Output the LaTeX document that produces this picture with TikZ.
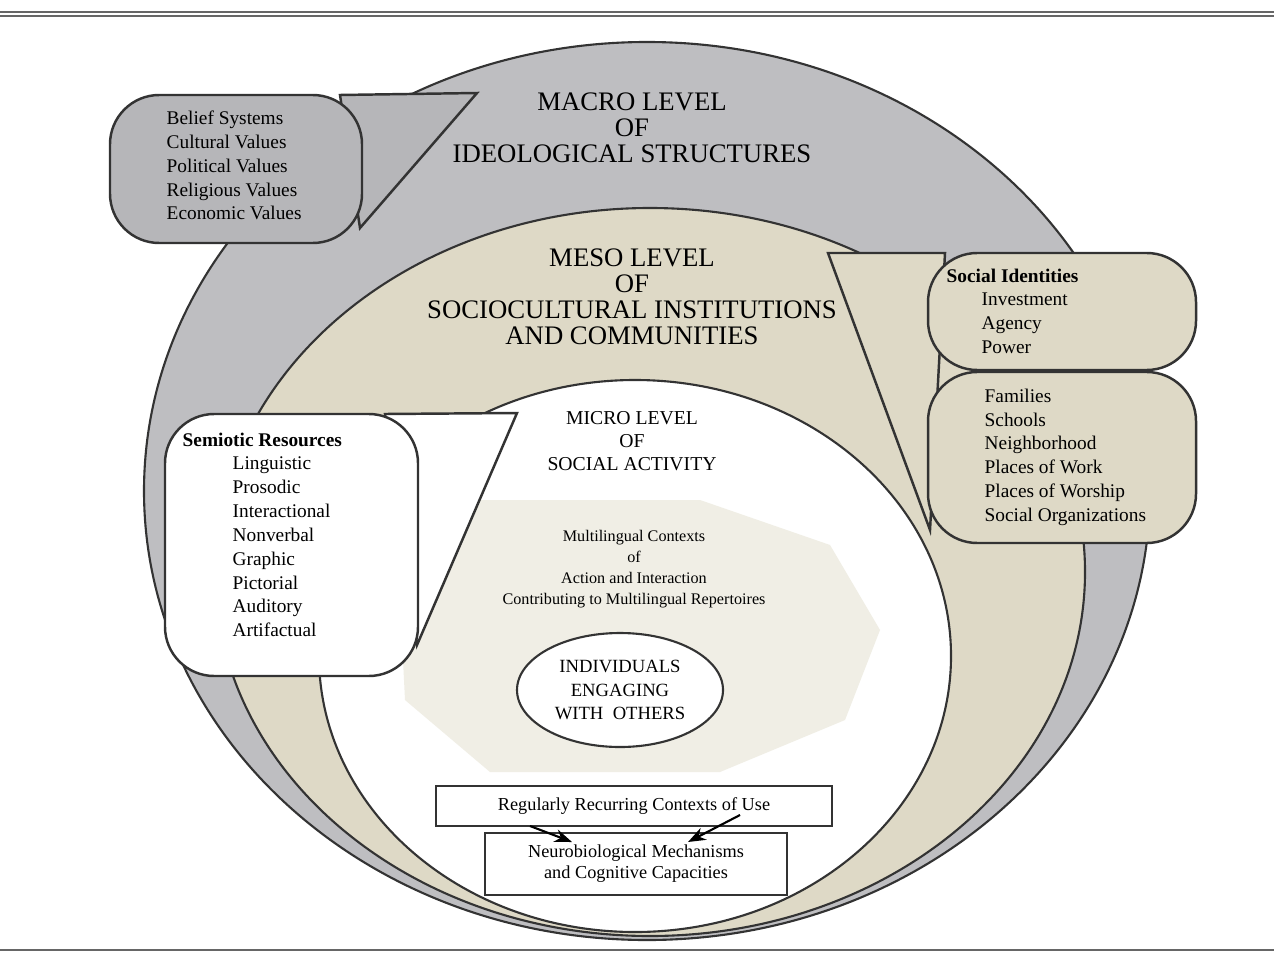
\documentclass[tikz,border=0pt]{standalone}
\usepackage{fontspec}
\setmainfont{Liberation Serif}
\usetikzlibrary{arrows.meta}
\definecolor{macrogray}{RGB}{190,190,193}
\definecolor{boxgray}{RGB}{182,182,185}
\definecolor{mesobeige}{RGB}{222,217,198}
\definecolor{ctxbeige}{RGB}{240,238,229}
\tikzset{
  lvl/.style={draw=black!80, line width=.6pt},
  callout/.style={draw=black!80, line width=.7pt, rounded corners=14pt},
  ptr/.style={draw=black!80, line width=.7pt},
  title/.style={align=center, font=\fontsize{7.6}{7.4}\selectfont},
  list/.style={align=left, font=\fontsize{5.5}{6.8}\selectfont, anchor=north west, inner sep=0pt},
  plain/.style={draw=black!80, line width=.6pt, align=center, font=\fontsize{5.2}{6}\selectfont}
}
\begin{document}
\begin{tikzpicture}[x=0.01cm, y=-0.01cm]
\useasboundingbox (0,0) rectangle (1274,961);
% rules
\draw[black!60, line width=.8pt] (0,12) -- (1274,12);
\draw[black!60, line width=.8pt] (0,16) -- (1274,16);
\draw[black!60, line width=.8pt] (0,950) -- (1274,950);
% levels
\draw[lvl, fill=macrogray] (647,491) ellipse [x radius=503, y radius=449];
\draw[lvl, fill=mesobeige] (650,572) ellipse [x radius=435, y radius=364];
\draw[lvl, fill=white] (635,656) ellipse [x radius=316, y radius=276];
\fill[ctxbeige] (480,500) -- (700,500) -- (830,545) -- (880,630) -- (845,720)
  -- (720,772) -- (490,772) -- (405,700) -- (400,600) -- cycle;
\node[title] (macro) at (632,128) {MACRO LEVEL\\OF\\IDEOLOGICAL STRUCTURES};
\node[title] (meso) at (632,297) {MESO LEVEL\\OF\\SOCIOCULTURAL INSTITUTIONS\\AND COMMUNITIES};
\node[title, font=\fontsize{5.6}{6.6}\selectfont] (micro) at (632,441) {MICRO LEVEL\\OF\\SOCIAL ACTIVITY};
\node[align=center, font=\fontsize{4.6}{6}\selectfont] (ctx) at (634,569)
  {Multilingual Contexts\\of\\Action and Interaction\\Contributing to Multilingual Repertoires};
\draw[lvl, fill=white] (620,690) ellipse [x radius=103, y radius=57];
\node[align=center, font=\fontsize{5.3}{6.6}\selectfont] (indiv) at (620,690) {INDIVIDUALS\\ENGAGING\\WITH\ \ OTHERS};
% bottom boxes
\node[plain, fill=white, minimum width=3.96cm, minimum height=.4cm] (recur) at (634,806) {Regularly Recurring Contexts of Use};
\node[plain, fill=white, minimum width=3.02cm, minimum height=.56cm] (neuro) at (636,864) {Neurobiological Mechanisms\\and Cognitive Capacities};
\coordinate (r1) at (530,826); \coordinate (r2) at (740,815);
\coordinate (n1) at (572,842); \coordinate (n2) at (688,842);
\draw[-{Stealth[length=5pt]}, line width=.6pt] (r1) -- (n1);
\draw[-{Stealth[length=5pt]}, line width=.6pt] (r2) -- (n2);
% macro callout
\draw[ptr, fill=boxgray] (340,95) -- (477,93) -- (360,228) -- cycle;
\draw[callout, fill=boxgray] (110,95) rectangle (362,243);
\node[list] (beliefs) at (166,110) {Belief Systems\\Cultural Values\\Political Values\\Religious Values\\Economic Values};
% micro callout
\draw[ptr, fill=white] (385,414) -- (517,413) -- (417,645) -- cycle;
\draw[callout, fill=white] (165,414) rectangle (418,676);
\node[list] (semio) at (182,432) {\textbf{Semiotic Resources}};
\node[list] (semiolist) at (232,456) {Linguistic\\Prosodic\\Interactional\\Nonverbal\\Graphic\\Pictorial\\Auditory\\Artifactual};
% meso callout
\draw[ptr, fill=mesobeige] (828,253) -- (945,253) -- (930,530) -- cycle;
\draw[callout, fill=mesobeige] (928,372) rectangle (1196,543);
\draw[callout, fill=mesobeige] (928,253) rectangle (1196,370);
\node[list] (social) at (946,268) {\textbf{Social Identities}};
\node[list] (sociallist) at (981,292) {Investment\\Agency\\Power};
\node[list] (commun) at (984,388) {Families\\Schools\\Neighborhood\\Places of Work\\Places of Worship\\Social Organizations};
\end{tikzpicture}
\end{document}
